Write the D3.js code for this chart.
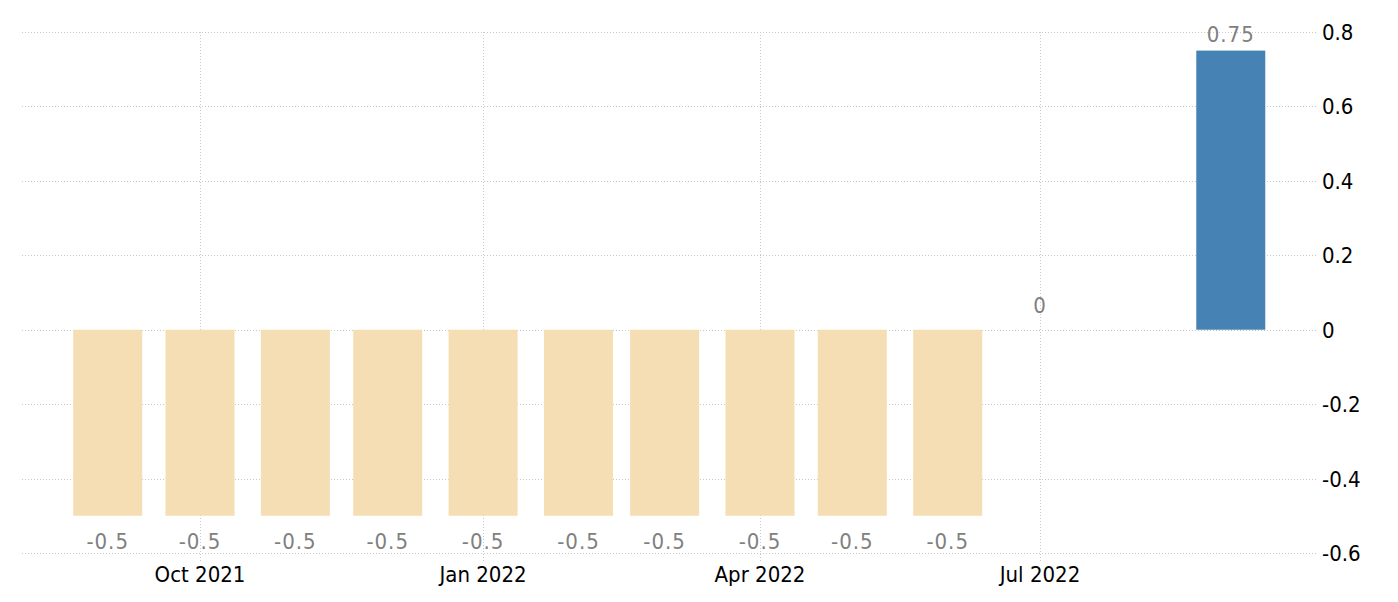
<!DOCTYPE html>
<html>
  <head>
	<meta charset="utf-8">
	<title>Rate</title>
	<script src="https://d3js.org/d3.v7.min.js"></script>
	<style>
		body { margin: 0; background: #fff; }
		svg text { font-family: "DejaVu Sans Condensed", "DejaVu Sans", sans-serif; font-stretch: condensed; }
		.grid line { stroke: #c8c8c8; stroke-dasharray: 1,2; shape-rendering: crispEdges; }
	</style>
  </head>
  <body>
	<svg id="chart" width="1398" height="602"></svg>
	<script>
		// data
		var months = ["2021-09", "2021-10", "2021-11", "2021-12", "2022-01", "2022-02",
			"2022-03", "2022-04", "2022-05", "2022-06", "2022-07", "2022-09"];
		var values = [-0.5, -0.5, -0.5, -0.5, -0.5, -0.5, -0.5, -0.5, -0.5, -0.5, 0, 0.75];
		var xTicks = ["2021-10", "2022-01", "2022-04", "2022-07"];
		var yTicks = [-0.6, -0.4, -0.2, 0, 0.2, 0.4, 0.6, 0.8];

		var parseMonth = d3.utcParse("%Y-%m");
		var fmtTick = d3.utcFormat("%b %Y");

		var data = months.map(function(m, i) { return {date: parseMonth(m), value: values[i]}; });

		var left = 22, right = 1316, barWidth = 69;

		var x = d3.scaleUtc()
			.domain([parseMonth("2021-10"), parseMonth("2022-07")])
			.range([200, 1040]);
		var y = d3.scaleLinear()
			.domain([-0.6, 0.8])
			.range([553, 32]);

		var svg = d3.select("#chart");

		var grid = svg.append("g").attr("class", "grid");
		grid.selectAll(".h")
			.data(yTicks)
			.enter().append("line")
			.attr("x1", left).attr("x2", right)
			.attr("y1", function(d) { return Math.round(y(d)) + 0.5; })
			.attr("y2", function(d) { return Math.round(y(d)) + 0.5; });
		grid.selectAll(".v")
			.data(xTicks)
			.enter().append("line")
			.attr("x1", function(d) { return Math.round(x(parseMonth(d))) + 0.5; })
			.attr("x2", function(d) { return Math.round(x(parseMonth(d))) + 0.5; })
			.attr("y1", y(0.8)).attr("y2", 561);

		svg.append("g").selectAll("rect")
			.data(data)
			.enter().append("rect")
			.attr("x", function(d) { return x(d.date) - barWidth / 2; })
			.attr("width", barWidth)
			.attr("y", function(d) { return y(Math.max(0, d.value)); })
			.attr("height", function(d) { return Math.abs(y(d.value) - y(0)); })
			.attr("fill", function(d, i) { return i === data.length - 1 ? "#4682b4" : "#f5deb3"; });

		svg.append("g").selectAll("text")
			.data(data)
			.enter().append("text")
			.attr("x", function(d) { return x(d.date); })
			.attr("y", function(d) {
				if (d.value < 0) return y(d.value) + 33;
				if (d.value === 0) return y(0) - 17;
				return y(d.value) - 9;
			})
			.attr("text-anchor", "middle")
			.attr("font-size", 22)
			.attr("letter-spacing", 1)
			.attr("fill", "#808080")
			.text(function(d) { return String(d.value); });

		// right axis
		svg.append("g").selectAll("text")
			.data(yTicks)
			.enter().append("text")
			.attr("x", 1322)
			.attr("y", function(d) { return y(d) + 8; })
			.attr("font-size", 22)
			.attr("fill", "#000")
			.text(function(d) { return String(+d.toFixed(1)); });

		// bottom axis
		svg.append("g").selectAll("text")
			.data(xTicks)
			.enter().append("text")
			.attr("x", function(d) { return x(parseMonth(d)); })
			.attr("y", 582)
			.attr("text-anchor", "middle")
			.attr("font-size", 22)
			.attr("fill", "#000")
			.text(function(d) { return fmtTick(parseMonth(d)); });
	</script>
  </body>
</html>
